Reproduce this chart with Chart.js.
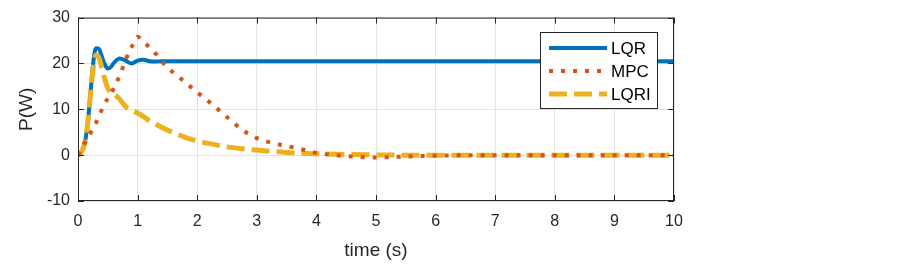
<!DOCTYPE html>
<html>
<head>
<meta charset="utf-8">
<script src="https://cdn.jsdelivr.net/npm/chart.js@4.4.1/dist/chart.umd.min.js"></script>
<style>
  html, body { margin: 0; padding: 0; background: #fff; }
  #wrap { width: 903px; height: 269px; }
</style>
</head>
<body>
<div id="wrap"><canvas id="chart" width="903" height="269"></canvas></div>
<script>
// time axis (s)
const time = [0, 0.05, 0.1, 0.15, 0.2, 0.25, 0.3, 0.35, 0.4, 0.45, 0.5, 0.55, 0.6, 0.7, 0.8, 0.9,
  1.0, 1.1, 1.2, 1.3, 1.4, 1.6, 1.8, 2.0, 2.25, 2.5, 2.75, 3.0, 3.25, 3.5, 3.75, 4.0,
  4.5, 5.0, 5.5, 6.0, 7.0, 8.0, 9.0, 10.0];

// power (W)
const lqr = [0, 0.5, 2, 5.5, 12, 19.5, 23.3, 23.2, 21.5, 19.8, 18.9, 19.2, 20.1, 21.1, 20.6, 20.0,
  20.6, 20.8, 20.5, 20.4, 20.5, 20.5, 20.5, 20.5, 20.5, 20.5, 20.5, 20.5, 20.5, 20.5, 20.5, 20.5,
  20.5, 20.5, 20.5, 20.5, 20.5, 20.5, 20.5, 20.5];
const mpc = [0, 1.1, 2.4, 3.5, 4.6, 5.8, 7.0, 8.4, 9.9, 11.2, 12.4, 13.3, 14.6, 17.4, 20.8, 23.6,
  25.8, 24.7, 23.5, 22.2, 20.5, 18.0, 15.9, 13.7, 11.1, 8.3, 5.6, 3.7, 2.7, 2.0, 1.3, 0.5,
  -0.2, -0.5, -0.3, -0.1, 0, 0, 0, 0];
const lqri = [0, 0.5, 2, 5.5, 12, 18.5, 21.8, 21.3, 19, 16.5, 14.6, 13.6, 13.3, 12.2, 10.6, 9.8,
  9.2, 8.4, 7.5, 6.8, 6.1, 4.9, 3.9, 3.1, 2.4, 1.8, 1.4, 1.1, 0.8, 0.6, 0.4, 0.3,
  0.15, 0.05, 0, 0, 0, 0, 0, 0];

const seriesNames = ['LQR', 'MPC', 'LQRI'];
const xTicks = [0, 1, 2, 3, 4, 5, 6, 7, 8, 9, 10];
const yTicks = [-10, 0, 10, 20, 30];

const ink = '#262626';
Chart.defaults.font.family = "'Liberation Sans', Arial, sans-serif";
Chart.defaults.color = ink;

function pts(ys) {
  return time.map((t, i) => ({ x: t, y: ys[i] }));
}

// axes box with inward ticks, like the original figure
const boxPlugin = {
  id: 'box',
  afterDatasetsDraw(chart) {
    const { ctx, chartArea: a, scales: { x, y } } = chart;
    ctx.save();
    ctx.strokeStyle = ink;
    ctx.lineWidth = 1;
    ctx.strokeRect(a.left + 0.5, a.top + 0.5, a.right - a.left - 1, a.bottom - a.top - 1);
    ctx.beginPath();
    xTicks.forEach(v => {
      const px = Math.round(x.getPixelForValue(v)) + 0.5;
      ctx.moveTo(px, a.bottom); ctx.lineTo(px, a.bottom - 6);
      ctx.moveTo(px, a.top); ctx.lineTo(px, a.top + 6);
    });
    yTicks.forEach(v => {
      const py = Math.round(y.getPixelForValue(v)) + 0.5;
      ctx.moveTo(a.left, py); ctx.lineTo(a.left + 6, py);
      ctx.moveTo(a.right, py); ctx.lineTo(a.right - 6, py);
    });
    ctx.stroke();
    ctx.restore();
  }
};

// legend box in the upper right of the plot
const legendPlugin = {
  id: 'boxLegend',
  afterDraw(chart) {
    const ctx = chart.ctx;
    const bx = 540, by = 32, bw = 117, bh = 76;
    ctx.save();
    ctx.fillStyle = '#fff';
    ctx.fillRect(bx, by, bw, bh);
    ctx.strokeStyle = ink;
    ctx.lineWidth = 1;
    ctx.strokeRect(bx + 0.5, by + 0.5, bw, bh);
    chart.data.datasets.forEach((ds, i) => {
      const ly = 48 + i * 23;
      ctx.beginPath();
      ctx.setLineDash(ds.borderDash || []);
      ctx.lineCap = 'butt';
      ctx.strokeStyle = ds.borderColor;
      ctx.lineWidth = ds.borderWidth;
      ctx.moveTo(549, ly);
      ctx.lineTo(607, ly);
      ctx.stroke();
      ctx.setLineDash([]);
      ctx.fillStyle = '#000';
      ctx.font = "17px 'Liberation Sans', Arial, sans-serif";
      ctx.textBaseline = 'middle';
      ctx.textAlign = 'left';
      ctx.fillText(ds.label, 611, ly + 1);
    });
    ctx.restore();
  }
};

new Chart(document.getElementById('chart'), {
  type: 'line',
  data: {
    datasets: [
      { label: seriesNames[0], data: pts(lqr), borderColor: '#0072BD', borderWidth: 4, order: 3 },
      { label: seriesNames[1], data: pts(mpc), borderColor: '#D95319', borderWidth: 4, borderDash: [4, 8], order: 1 },
      { label: seriesNames[2], data: pts(lqri), borderColor: '#EDB120', borderWidth: 5, borderDash: [18, 7], order: 2 }
    ]
  },
  options: {
    responsive: false,
    animation: false,
    devicePixelRatio: 1,
    layout: { padding: { left: 0, right: 229, top: 14, bottom: 0 } },
    elements: {
      point: { radius: 0 },
      line: { cubicInterpolationMode: 'monotone', fill: false, borderCapStyle: 'butt' }
    },
    plugins: { legend: { display: false }, tooltip: { enabled: false } },
    scales: {
      x: {
        type: 'linear', min: 0, max: 10,
        ticks: { stepSize: 1, padding: 11, font: { size: 16 }, color: ink, maxRotation: 0 },
        grid: { color: '#e3e3e3', drawTicks: false },
        border: { display: false },
        title: { display: true, text: 'time (s)', font: { size: 19 }, color: ink, padding: { top: 2, bottom: 7 } },
        afterFit(s) { s.height = 68; }
      },
      y: {
        min: -10, max: 30,
        ticks: { stepSize: 10, padding: 8, font: { size: 16 }, color: ink },
        grid: { color: '#e3e3e3', drawTicks: false },
        border: { display: false },
        title: { display: true, text: 'P(W)', font: { size: 19 }, color: ink, padding: { top: 15, bottom: 0 } },
        afterFit(s) { s.width = 78; }
      }
    }
  },
  plugins: [boxPlugin, legendPlugin]
});
</script>
</body>
</html>
